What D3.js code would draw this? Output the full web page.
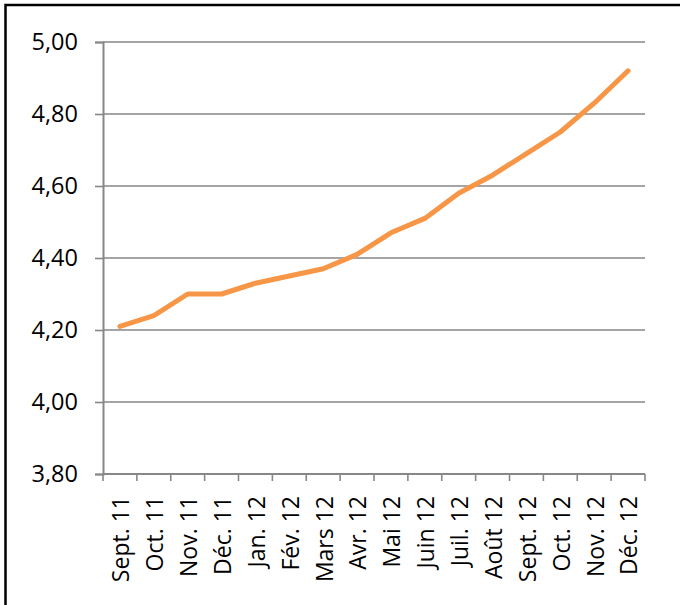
<!DOCTYPE html>
<html>
<head>
<meta charset="utf-8">
<script src="https://cdn.jsdelivr.net/npm/d3@7"></script>
<style>
  body { margin: 0; background: #fff; }
  svg text { font-family: "Open Sans", sans-serif; fill: #000; }
</style>
</head>
<body>
<div id="chart"></div>
<script>
// month labels (x axis)
const months = ["Sept. 11", "Oct. 11", "Nov. 11", "Déc. 11", "Jan. 12", "Fév. 12",
  "Mars 12", "Avr. 12", "Mai 12", "Juin 12", "Juil. 12", "Août 12",
  "Sept. 12", "Oct. 12", "Nov. 12", "Déc. 12"];

// values
const values = [4.21, 4.24, 4.30, 4.30, 4.33, 4.35, 4.37, 4.41,
  4.47, 4.51, 4.58, 4.63, 4.69, 4.75, 4.83, 4.92];

// y tick values
const yTicks = [3.8, 4.0, 4.2, 4.4, 4.6, 4.8, 5.0];

var margin = { top: 42, right: 35, bottom: 131, left: 103 },
  width = 680 - margin.left - margin.right,
  height = 605 - margin.top - margin.bottom;

var svg = d3.select("#chart").append("svg")
  .attr("width", 680)
  .attr("height", 605);

// outer frame, right and bottom edges fall outside the picture
svg.append("rect")
  .attr("x", 5.5)
  .attr("y", 5)
  .attr("width", 720)
  .attr("height", 720)
  .attr("fill", "none")
  .attr("stroke", "#000")
  .attr("stroke-width", 2.5);

var g = svg.append("g")
  .attr("transform", "translate(" + margin.left + "," + margin.top + ")");

var x = d3.scaleBand().domain(months).range([0, width]);
var y = d3.scaleLinear().domain([3.8, 5.0]).range([height, 0]);

var fmt = function (d) { return d3.format(".2f")(d).replace(".", ","); };

// gridlines
g.selectAll(".grid")
  .data(yTicks.slice(1))
  .enter().append("line")
  .attr("x1", 0)
  .attr("x2", width)
  .attr("y1", function (d) { return y(d); })
  .attr("y2", function (d) { return y(d); })
  .attr("stroke", "#878787")
  .attr("stroke-width", 1.6);

// y axis
var yAxis = g.append("g")
  .call(d3.axisLeft(y).tickValues(yTicks).tickSize(8).tickPadding(17).tickFormat(fmt));
yAxis.select(".domain").attr("stroke", "#878787").attr("stroke-width", 2);
yAxis.selectAll(".tick line").attr("stroke", "#878787").attr("stroke-width", 1.6);
yAxis.selectAll("text")
  .style("font-size", "23.5px")
  .style("font-family", "'Open Sans', sans-serif")
  .attr("fill", "#000");

// x axis, ticks on category boundaries
var xAxis = g.append("g")
  .attr("transform", "translate(0," + height + ")")
  .call(d3.axisBottom(x).tickSize(0).tickPadding(0));
xAxis.select(".domain").attr("stroke", "#878787").attr("stroke-width", 2)
  .attr("d", "M0,0H" + width);
xAxis.selectAll(".tick line").remove();
xAxis.selectAll(".tick text")
  .style("font-size", "23px")
  .style("font-family", "'Open Sans', sans-serif")
  .attr("fill", "#000")
  .attr("text-anchor", "end")
  .attr("transform", "rotate(-90)")
  .attr("x", -22)
  .attr("y", 2)
  .attr("dy", "0.32em")
  .attr("dx", 0);

xAxis.selectAll(".bound")
  .data(months.concat([null]))
  .enter().append("line")
  .attr("x1", function (d, i) { return i * x.step(); })
  .attr("x2", function (d, i) { return i * x.step(); })
  .attr("y1", 0)
  .attr("y2", 7)
  .attr("stroke", "#878787")
  .attr("stroke-width", 1.6);

// value line
var valueline = d3.line()
  .x(function (d, i) { return x(months[i]) + x.bandwidth() / 2; })
  .y(function (d) { return y(d); });

g.append("path")
  .datum(values)
  .attr("fill", "none")
  .attr("stroke", "#F79646")
  .attr("stroke-width", 5)
  .attr("stroke-linejoin", "round")
  .attr("stroke-linecap", "round")
  .attr("d", valueline);
</script>
</body>
</html>
